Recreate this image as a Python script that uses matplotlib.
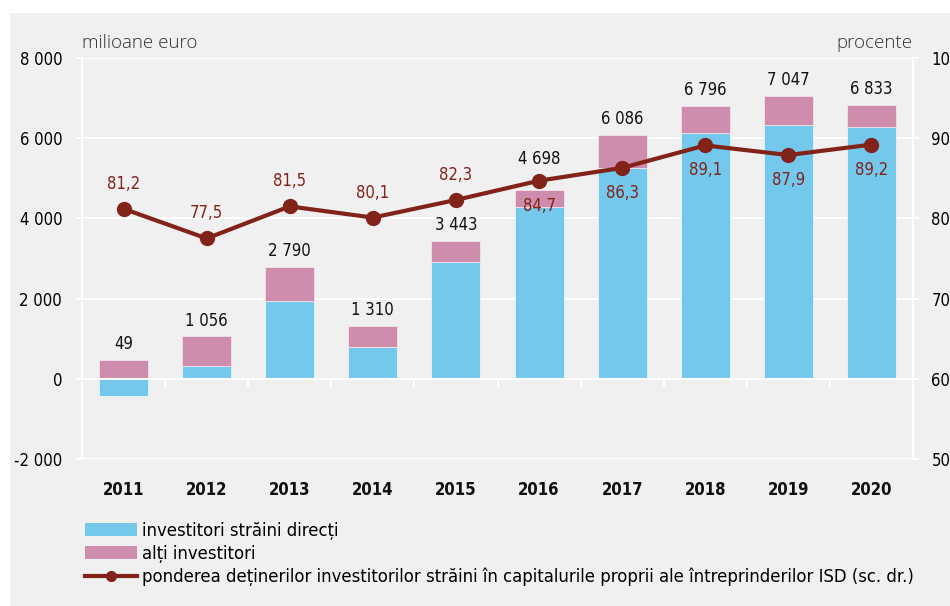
import matplotlib.pyplot as plt
from matplotlib.patches import Rectangle, Patch
from matplotlib.lines import Line2D

# date (milioane euro / procente)
ani = ["2011", "2012", "2013", "2014", "2015", "2016", "2017", "2018", "2019", "2020"]
isd = [-430, 330, 1950, 800, 2910, 4290, 5250, 6130, 6340, 6270]
alti = [479, 726, 840, 510, 533, 408, 836, 666, 707, 563]
total = [49, 1056, 2790, 1310, 3443, 4698, 6086, 6796, 7047, 6833]
pondere = [81.2, 77.5, 81.5, 80.1, 82.3, 84.7, 86.3, 89.1, 87.9, 89.2]
y_stanga = [-2000, 0, 2000, 4000, 6000, 8000]
y_dreapta = [50, 60, 70, 80, 90, 100]

albastru = "#74c8ec"
roz = "#ce8dac"
rosu = "#82231a"
fundal = "#f0f0f0"
fam = ["DejaVu Sans"]
ingust = dict(family=fam, stretch="condensed")


def fmt_mii(v):
    s = f"{abs(v):,}".replace(",", " ")
    return ("-" if v < 0 else "") + s


fig = plt.figure(figsize=(9.5, 6.06), dpi=100, facecolor="white")
fig.add_artist(Rectangle((10 / 950, 0), 1, 593 / 606, transform=fig.transFigure,
                         facecolor=fundal, edgecolor="none", zorder=0))

ax = fig.add_axes([82 / 950, 147 / 606, 831 / 950, 401 / 606])
ax.set_facecolor("none")
x = list(range(len(ani)))

# bare: partea pozitiva se stivuieste de la 0
baza_alti = [max(v, 0) for v in isd]
ax.bar(x, isd, width=0.59, color=albastru, edgecolor="#e6f4fa", lw=0.6, zorder=2)
ax.bar(x, alti, bottom=baza_alti, width=0.59, color=roz, edgecolor="#f3e3ea", lw=0.6, zorder=2)

for i in x:
    top = baza_alti[i] + alti[i]
    dy = 16 if ani[i] == "2016" else 5  # ridicata deasupra liniei
    ax.annotate(fmt_mii(total[i]), (i, top), xytext=(0, dy), textcoords="offset points",
                ha="center", va="bottom", fontsize=12, color="#111111", **ingust)

ax.set_xlim(-0.5, 9.5)
ax.set_ylim(-2000, 8000)
ax.set_yticks(y_stanga)
ax.set_yticklabels([fmt_mii(v) for v in y_stanga], fontsize=12, color="#000000", **ingust)
ax.set_xticks(x)
ax.set_xticklabels(ani, fontsize=12, fontweight="bold", color="#111111", **ingust)
ax.tick_params(axis="x", length=0, pad=16)
ax.tick_params(axis="y", length=4.3, width=1.5, color="white", pad=10)
ax.grid(axis="y", color="white", lw=1.5, zorder=1)
for s in ["top", "bottom"]:
    ax.spines[s].set_visible(False)
for s in ["left", "right"]:
    ax.spines[s].set_color("white")
    ax.spines[s].set_linewidth(1.5)
ax.axhline(0, color="white", lw=1.5, zorder=3)
granite = [i - 0.5 for i in x[1:]]
ax.plot(granite, [0] * len(granite), ls="none", marker=3, ms=6, mew=1.5, color="white", zorder=3)

ax.text(0, 1.015, "milioane euro", transform=ax.transAxes, ha="left", va="bottom",
        fontsize=13.5, color="#333333", family=["Open Sans", "DejaVu Sans"], fontweight="light")
ax.text(1, 1.015, "procente", transform=ax.transAxes, ha="right", va="bottom",
        fontsize=13.5, color="#333333", family=["Open Sans", "DejaVu Sans"], fontweight="light")

ax2 = ax.twinx()
ax2.set_ylim(50, 100)
ax2.set_yticks(y_dreapta)
ax2.set_yticklabels([str(v) for v in y_dreapta], fontsize=12, color="#000000", **ingust)
ax2.tick_params(axis="y", length=4.3, width=1.5, color="white", pad=9)
for s in ["top", "bottom", "left", "right"]:
    ax2.spines[s].set_visible(False)
ax2.plot(x, pondere, color=rosu, lw=3, marker="o", ms=10, zorder=4)
for i in x:
    dy = 18 if i < 5 else -18
    ax2.annotate(f"{pondere[i]:.1f}".replace(".", ","), (i, pondere[i]), xytext=(0, dy),
                 textcoords="offset points", ha="center", va="center",
                 fontsize=12, color=rosu, **ingust)

handles = [
    Patch(facecolor=albastru, edgecolor="none"),
    Patch(facecolor=roz, edgecolor="none"),
    Line2D([], [], color=rosu, lw=3, marker="o", ms=7),
]
labels = [
    "investitori străini direcți",
    "alți investitori",
    "ponderea deținerilor investitorilor străini în capitalurile proprii ale întreprinderilor ISD (sc. dr.)",
]
fig.legend(handles, labels, loc="upper left", bbox_to_anchor=(78 / 950, 91 / 606),
           frameon=False, prop={"family": fam, "stretch": "condensed", "size": 13.2},
           handlelength=2.8, handleheight=0.7, handletextpad=0.3, labelspacing=0.25,
           borderaxespad=0)

fig.savefig("out.png", dpi=100, facecolor="white")
